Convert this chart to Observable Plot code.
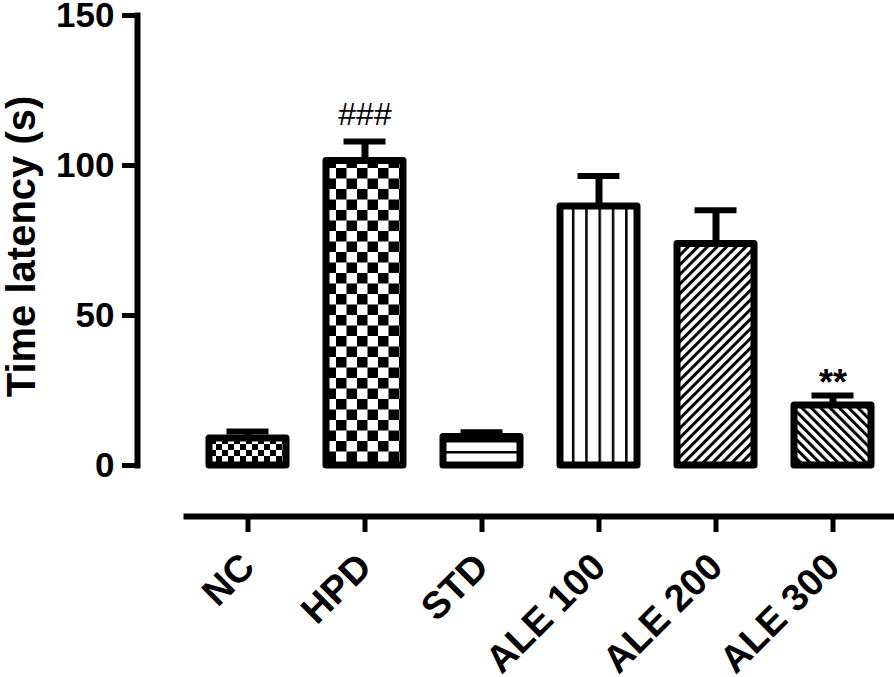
<!DOCTYPE html>
<html><head><meta charset="utf-8">
<script src="https://cdn.jsdelivr.net/npm/d3@7"></script>
<script src="https://cdn.jsdelivr.net/npm/@observablehq/plot@0.6"></script>
<style>body{margin:0;background:#fff} svg{display:block}</style>
</head><body><div id="chart"></div>
<script>
const groups = ["NC", "HPD", "STD", "ALE 100", "ALE 200", "ALE 300"];
const means = [9, 101.5, 9.5, 86.3, 73.8, 20];
const sems = [2.3, 6.5, 1.6, 10.2, 11.3, 3.3];
const sigMarks = ["", "###", "", "", "", "**"];
const patternIds = ["checkSmall", "checkLarge", "hLines", "vLines", "diagUp", "diagDown"];
const yTicks = [0, 50, 100, 150];
const yTitle = "Time latency (s)";

const data = groups.map((g, i) => ({
  group: g, mean: means[i], upper: means[i] + sems[i],
  mark: sigMarks[i], fill: `url(#${patternIds[i]})`
}));

const chart = Plot.plot({
  width: 894, height: 677,
  marginTop: 15, marginBottom: 212, marginLeft: 137, marginRight: 0,
  style: {fontFamily: "'Liberation Sans', Arial, sans-serif", fontWeight: "bold", color: "black", background: "white"},
  x: {domain: groups, range: [166, 914], padding: 0.339, label: null},
  y: {domain: [0, 150], label: null},
  color: {type: "identity"},
  marks: [
    Plot.frame({anchor: "left", stroke: "black", strokeWidth: 6}),
    Plot.axisY(yTicks, {tickSize: 15, tickPadding: 8, strokeWidth: 5, fontSize: 35, label: null}),
    Plot.frame({anchor: "bottom", dy: 51, insetLeft: 49, stroke: "black", strokeWidth: 6}),
    Plot.axisX({tickSize: 16, tickPadding: 28, tickRotate: -45, dy: 51, strokeWidth: 5, fontSize: 38, label: null}),
    Plot.ruleX(data, {x: "group", y1: "mean", y2: "upper", stroke: "black", strokeWidth: 7}),
    Plot.tickY(data, {x: "group", y: "upper", stroke: "black", strokeWidth: 6, insetLeft: 17.5, insetRight: 17.5}),
    Plot.barY(data, {x: "group", y: "mean", fill: "fill", stroke: "black", strokeWidth: 7, strokeLinejoin: "round"}),
    Plot.text(data.filter(d => d.mark === "###"), {x: "group", y: "upper", text: "mark", dy: -27, fontSize: 32, fontWeight: "normal"}),
    Plot.text(data.filter(d => d.mark === "**"), {x: "group", y: "upper", text: "mark", dy: -12, fontSize: 36, fontWeight: "bold"}),
    Plot.text([yTitle], {frameAnchor: "left", textAnchor: "middle", rotate: -90, dx: -115, dy: 6, fontSize: 40})
  ]
});
document.getElementById("chart").appendChild(chart);

const svg = d3.select(chart.tagName.toLowerCase() === "svg" ? chart : chart.querySelector("svg"));
const defs = svg.insert("defs", ":first-child");
function checker(id, s) {
  const p = defs.append("pattern").attr("id", id).attr("patternUnits", "userSpaceOnUse").attr("width", 2 * s).attr("height", 2 * s);
  p.append("rect").attr("width", 2 * s).attr("height", 2 * s).attr("fill", "white");
  p.append("rect").attr("width", s).attr("height", s).attr("fill", "black");
  p.append("rect").attr("x", s).attr("y", s).attr("width", s).attr("height", s).attr("fill", "black");
}
function stripes(id, period, thick, angle) {
  const p = defs.append("pattern").attr("id", id).attr("patternUnits", "userSpaceOnUse")
    .attr("width", period).attr("height", period).attr("patternTransform", `rotate(${angle})`);
  p.append("rect").attr("width", period).attr("height", period).attr("fill", "white");
  p.append("rect").attr("x", 0).attr("width", thick).attr("height", period).attr("fill", "black");
}
checker("checkSmall", 6);
checker("checkLarge", 10.5);
stripes("hLines", 11, 2.5, 90);
stripes("vLines", 13.3, 2.5, 0);
stripes("diagUp", 6.8, 3, 45);
stripes("diagDown", 6.6, 3, -45);
</script>
</body></html>
